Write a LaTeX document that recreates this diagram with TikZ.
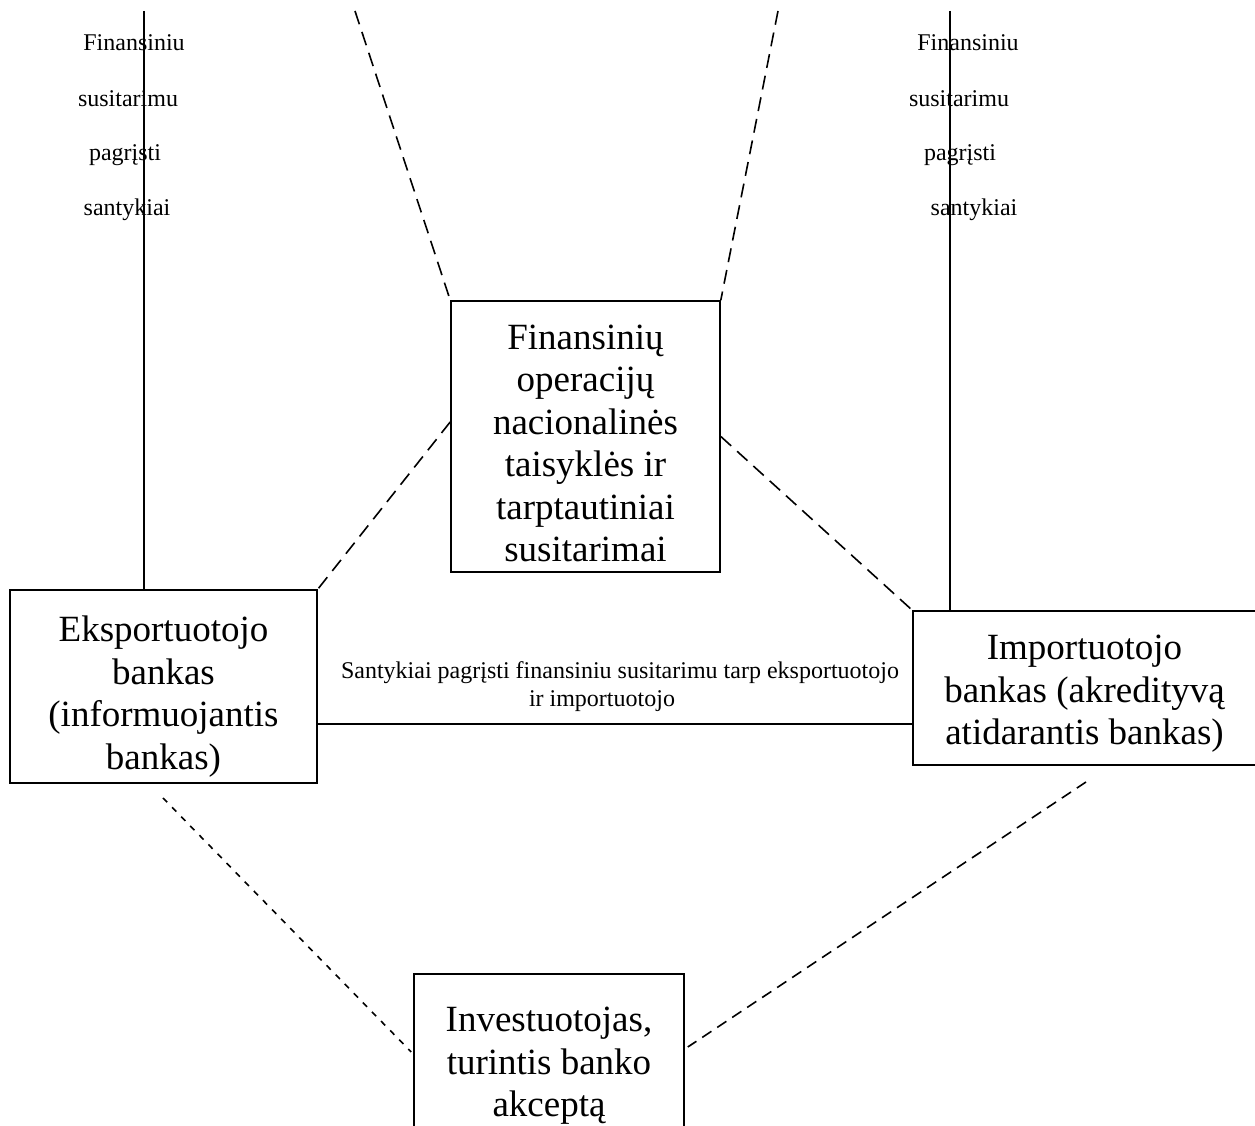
\documentclass[tikz,border=0pt]{standalone}
\usepackage{fontspec}
\setmainfont{Liberation Serif}
\begin{document}
\begin{tikzpicture}[x=1pt,y=1pt,
  box/.style={draw,line width=1.6pt,inner sep=0pt,align=center,
    font=\fontsize{37}{42.5}\selectfont},
  small/.style={inner sep=0pt,font=\fontsize{24}{28}\selectfont},
  solidline/.style={line width=1.6pt},
  dashA/.style={line width=1.6pt,dash pattern=on 14pt off 8pt},
  dashB/.style={line width=1.6pt,dash pattern=on 6pt off 7pt},
  dashC/.style={line width=1.6pt,dash pattern=on 11pt off 7pt}]
\useasboundingbox (0,0) rectangle (1255,1126);
% boxes
\node[box,minimum width=269pt,minimum height=271pt] (cen) at (585.5,689.5)
  {\rule{0pt}{38pt}Finansinių\\operacijų\\nacionalinės\\taisyklės ir\\tarptautiniai\\susitarimai};
\node[box,minimum width=307pt,minimum height=193pt] (eks) at (163.5,439.5)
  {\rule{0pt}{46pt}Eksportuotojo\\bankas\\(informuojantis\\bankas)};
\node[box,minimum width=343pt,minimum height=154pt] (imp) at (1084.5,438)
  {\rule{0pt}{36pt}Importuotojo\\bankas (akredityvą\\atidarantis bankas)};
\node[box,minimum width=270pt,minimum height=172pt] (inv) at (549,66)
  {\rule{0pt}{36pt}Investuotojas,\\turintis banko\\akceptą};
% top texts
\node[small] (l1) at (134,1083) {Finansiniu};
\node[small] (l2) at (128,1027) {susitarimu};
\node[small] (l3) at (125,971) {pagrįsti};
\node[small] (l4) at (127,916) {santykiai};
\node[small] (r1) at (968,1083) {Finansiniu};
\node[small] (r2) at (959,1027) {susitarimu};
\node[small] (r3) at (960,971) {pagrįsti};
\node[small] (r4) at (974,916) {santykiai};
% relation label
\node[small,align=center] (lab) at (620,439)
  {Santykiai pagrįsti finansiniu susitarimu tarp eksportuotojo\\ir importuotojo\hspace*{36pt}};
% free ends
\coordinate (tl) at (144,1115);
\coordinate (tr) at (950,1115);
\coordinate (dl) at (355,1115);
\coordinate (dr) at (778,1115);
\coordinate (hl) at (600,402);
\coordinate (bl) at (163,328);
\coordinate (br) at (1086,344);
% connectors
\draw[solidline] (tl) -- (tl |- eks.north);
\draw[solidline] (tr) -- (tr |- imp.north);
\draw[dashA] (dl) -- (cen.north west);
\draw[dashA] (dr) -- (cen.north east);
\draw[dashA] ([yshift=14.5pt]cen.west) -- (eks.north east);
\draw[dashA] (cen.east) -- (imp.north west);
\draw[solidline] (eks.east |- hl) -- (imp.west |- hl);
\draw[dashB] (bl) -- ([yshift=8pt,xshift=-2pt]inv.west);
\draw[dashC] (br) -- ([yshift=13pt,xshift=3pt]inv.east);
\end{tikzpicture}
\end{document}
